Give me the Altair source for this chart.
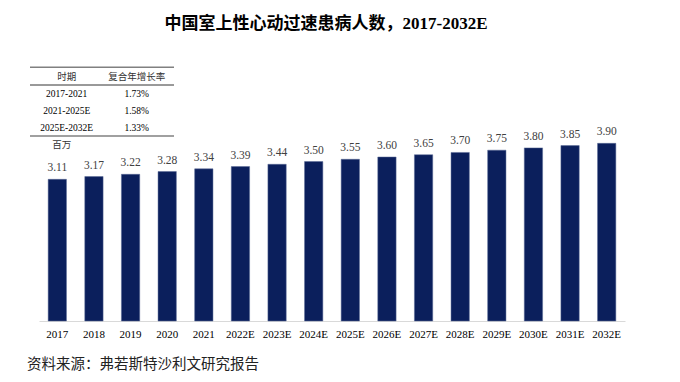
import altair as alt
import pandas as pd

years = ["2017", "2018", "2019", "2020", "2021", "2022E", "2023E", "2024E",
         "2025E", "2026E", "2027E", "2028E", "2029E", "2030E", "2031E", "2032E"]
patients = [3.11, 3.17, 3.22, 3.28, 3.34, 3.39, 3.44, 3.50,
            3.55, 3.60, 3.65, 3.70, 3.75, 3.80, 3.85, 3.90]

table_header = ["时期", "复合年增长率"]
periods = ["2017-2021", "2021-2025E", "2025E-2032E"]
cagr = ["1.73%", "1.58%", "1.33%"]

title_text = "中国室上性心动过速患病人数，2017-2032E"
unit_text = "百万"
source_text = "资料来源：弗若斯特沙利文研究报告"

FONT = "'Liberation Serif', 'Noto Sans CJK SC', serif"
BAR = "#0B1F5C"

df = pd.DataFrame({"year": years, "value": patients})

x_enc = alt.X("year:N", sort=years,
              scale=alt.Scale(paddingInner=0.5, paddingOuter=0.25),
              axis=alt.Axis(title=None, labelAngle=0, ticks=False, labelPadding=7,
                            labelFont=FONT, labelFontSize=11, labelColor="#000000",
                            domainColor="#d9d9d9", domainWidth=1, grid=False))
y_enc = alt.Y("value:Q", scale=alt.Scale(domain=[0, 4.5], nice=False), axis=None)

bars = alt.Chart(df).mark_bar(color=BAR, stroke="#5a6a96", strokeWidth=0.5).encode(x=x_enc, y=y_enc)
labels = alt.Chart(df).mark_text(font=FONT, fontSize=11.5, color="#404040",
                                 baseline="middle", dy=-11).encode(
    x=alt.X("year:N", sort=years), y="value:Q", text=alt.Text("value:Q", format=".2f"))

one = alt.Data(values=[{"a": 1}])


def txt(t, x, y, size, align="center", weight="normal", color="#000000"):
    return alt.Chart(one).mark_text(text=t, font=FONT, fontSize=size, align=align,
                                    baseline="middle", fontWeight=weight, color=color,
                                    clip=False).encode(x=alt.value(x), y=alt.value(y))


def hline(x1, x2, y, color, w):
    return alt.Chart(one).mark_rule(color=color, strokeWidth=w, clip=False).encode(
        x=alt.value(x1), x2=alt.value(x2), y=alt.value(y))


layers = [bars, labels]
layers.append(txt(title_text, 287, -92, 17, weight="bold"))
layers.append(hline(-9, 135, -48.7, "#808080", 1.6))
layers.append(hline(-9, 135, -31, "#000000", 0.8))
layers.append(hline(-9, 135, 20, "#808080", 1.6))
layers.append(txt(table_header[0], 27.7, -39.3, 9.5, color="#333333"))
layers.append(txt(table_header[1], 97.7, -39.3, 9.5, color="#333333"))
row_y = [-21.7, -5.2, 11.6]
for i, (p, c) in enumerate(zip(periods, cagr)):
    layers.append(txt(p, 27.7, row_y[i], 9.5))
    layers.append(txt(c, 97.7, row_y[i], 9.5))
layers.append(txt(unit_text, 22.7, 29, 9.5, color="#333333"))
layers.append(txt(source_text, -12, 249, 14.5, align="left", color="#222222"))

chart = alt.layer(*layers).properties(
    width=586, height=205,
    autosize=alt.AutoSizeParams(type="none"),
    padding={"left": 31, "top": 108, "right": 47, "bottom": 53},
).configure_view(stroke=None)

chart.save("out.html", embed_options={"renderer": "svg", "actions": False})
